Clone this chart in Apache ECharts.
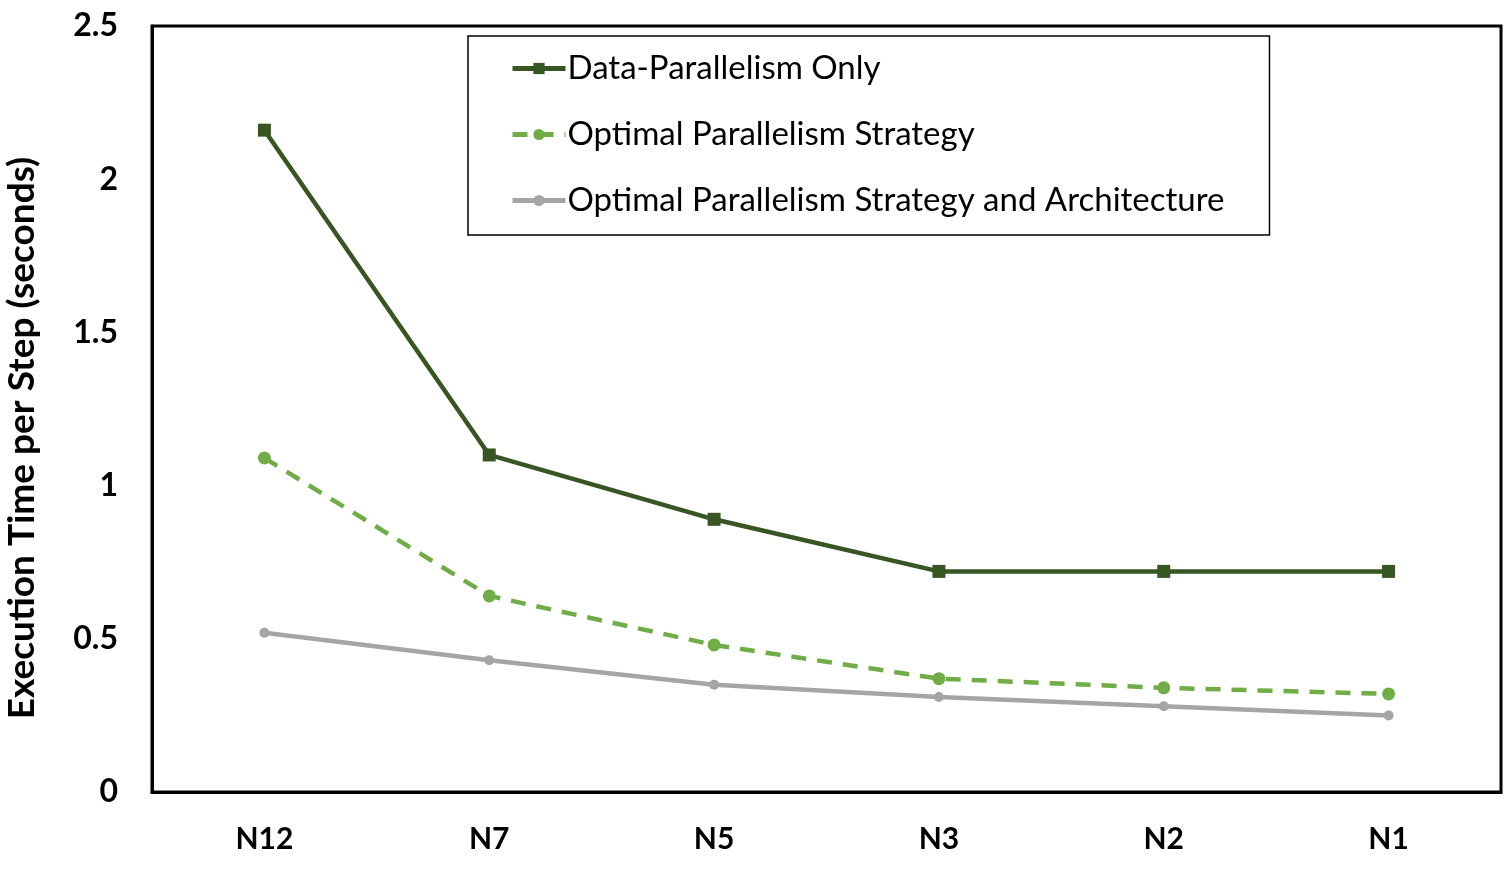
<!DOCTYPE html>
<html>
<head>
<meta charset="utf-8">
<script src="https://cdn.jsdelivr.net/npm/echarts@6/dist/echarts.min.js"></script>
<style>
html,body{margin:0;padding:0;background:#fff}
#main{width:1508px;height:880px}
</style>
</head>
<body>
<div id="main"></div>
<script>
// === data ===
const categories=['N12','N7','N5','N3','N2','N1'];
const dataParallel=[2.16,1.10,0.89,0.72,0.72,0.72];
const optStrategy=[1.09,0.64,0.48,0.37,0.34,0.32];
const optStrategyArch=[0.52,0.43,0.35,0.31,0.28,0.25];
const seriesNames=['Data-Parallelism Only','Optimal Parallelism Strategy','Optimal Parallelism Strategy and Architecture'];
const yTitle='Execution Time per Step (seconds)';

const FONT='Lato';
const C_DARK='#375623',C_LIGHT='#70AD47',C_GRAY='#A5A5A5';

const chart=echarts.init(document.getElementById('main'),null,{renderer:'canvas'});
chart.setOption({
  backgroundColor:'#fff',
  animation:false,
  textStyle:{fontFamily:FONT},
  grid:{left:152,right:7,top:26,bottom:88,outerBoundsMode:'none',containLabel:false,
        show:true,borderColor:'#000',borderWidth:3,backgroundColor:'transparent'},
  // y title drawn as text so it can sit a bit below the axis middle, like the original
  graphic:[{
    type:'text',x:22,y:438,rotation:Math.PI/2,
    style:{text:yTitle,fontFamily:FONT,fontWeight:'bold',fontSize:37,fill:'#000',
           align:'center',verticalAlign:'middle'}
  }],
  legend:{
    orient:'vertical',left:468,top:36,
    padding:[16,45,18,42],itemGap:33,
    itemWidth:53,itemHeight:14,
    borderColor:'#000',borderWidth:1.5,backgroundColor:'#fff',
    lineStyle:{width:5},
    textStyle:{fontFamily:FONT,fontSize:33,lineHeight:33,color:'#000',padding:[0,0,0,-3]},
    data:seriesNames
  },
  xAxis:{
    type:'category',data:categories,boundaryGap:true,
    axisLine:{lineStyle:{color:'#000',width:3}},
    axisTick:{show:false},
    axisLabel:{fontFamily:FONT,fontWeight:'bold',fontSize:30,color:'#000',margin:32}
  },
  yAxis:{
    type:'value',min:0,max:2.5,interval:0.5,
    axisLine:{show:true,lineStyle:{color:'#000',width:3}},
    axisTick:{show:false},
    splitLine:{show:false},
    axisLabel:{fontFamily:FONT,fontWeight:'bold',fontSize:32,color:'#000',margin:34}
  },
  series:[
    {name:seriesNames[0],type:'line',data:dataParallel,
     symbol:'rect',symbolSize:13,
     lineStyle:{color:C_DARK,width:4.5},itemStyle:{color:C_DARK}},
    {name:seriesNames[1],type:'line',data:optStrategy,
     symbol:'circle',symbolSize:13,
     lineStyle:{color:C_LIGHT,width:4.5,type:[15,11]},itemStyle:{color:C_LIGHT}},
    {name:seriesNames[2],type:'line',data:optStrategyArch,
     symbol:'circle',symbolSize:10,
     lineStyle:{color:C_GRAY,width:4.5},itemStyle:{color:C_GRAY}}
  ]
});
</script>
</body>
</html>
